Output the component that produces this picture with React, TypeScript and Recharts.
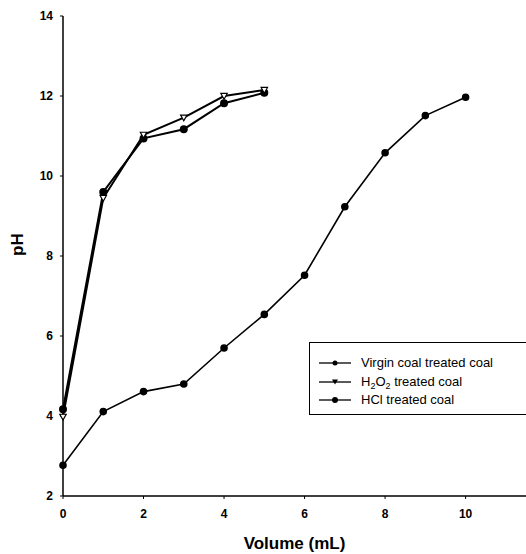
import React from "react";
import { LineChart, Line, XAxis, YAxis } from "recharts";

const volume = [0, 1, 2, 3, 4, 5, 6, 7, 8, 9, 10];
const virginCoal = [4.17, 9.6, 10.94, 11.17, 11.82, 12.08];
const h2o2Coal = [3.98, 9.45, 11.03, 11.46, 12.0, 12.15];
const hclCoal = [2.77, 4.11, 4.61, 4.8, 5.7, 6.54, 7.52, 9.23, 10.58, 11.51, 11.97];
const xTicks = [0, 2, 4, 6, 8, 10];
const yTicks = [2, 4, 6, 8, 10, 12, 14];

const data = volume.map((v, i) => ({
  v,
  virgin: virginCoal[i],
  h2o2: h2o2Coal[i],
  hcl: hclCoal[i],
}));

const FONT = "'Liberation Sans', Arial, sans-serif";

const TriDot = (props: any) => {
  const { cx, cy } = props;
  if (cx == null || cy == null || props.value == null) return null;
  const s = 3.2;
  return (
    <polygon
      points={`${cx - s},${cy - s * 0.8} ${cx + s},${cy - s * 0.8} ${cx},${cy + s}`}
      fill="#fff"
      stroke="#000"
      strokeWidth={1.2}
    />
  );
};

const LegendSample = ({ kind }: { kind: string }) => (
  <svg width={34} height={10} style={{ display: "block" }}>
    <line x1={1} y1={5} x2={33} y2={5} stroke="#000" strokeWidth={1.3} />
    {kind === "tri" ? (
      <polygon points="14,2.5 20,2.5 17,7.5" fill="#000" />
    ) : (
      <circle cx={17} cy={5} r={kind === "big" ? 3 : 2.5} fill="#000" />
    )}
  </svg>
);

const LegendBox = () => {
  const rows = [
    { kind: "small", label: <span>Virgin coal treated coal</span> },
    {
      kind: "tri",
      label: (
        <span>
          H<sub style={{ fontSize: 9, verticalAlign: -3, lineHeight: 0 }}>2</sub>O
          <sub style={{ fontSize: 9, verticalAlign: -3, lineHeight: 0 }}>2</sub> treated coal
        </span>
      ),
    },
    { kind: "big", label: <span>HCl treated coal</span> },
  ];
  return (
    <div
      style={{
        position: "absolute",
        left: 309,
        top: 342,
        border: "1px solid #000",
        width: 240,
        height: 73,
        boxSizing: "border-box",
        paddingTop: 11,
        paddingLeft: 8,
        fontFamily: FONT,
        fontSize: 13,
        color: "#000",
        background: "#fff",
      }}
    >
      {rows.map((r, i) => (
        <div key={i} style={{ display: "flex", alignItems: "center", height: 18.5 }}>
          <LegendSample kind={r.kind} />
          <div style={{ marginLeft: 9, lineHeight: "14px" }}>{r.label}</div>
        </div>
      ))}
    </div>
  );
};

export default function App() {
  return (
    <div
      style={{
        position: "absolute",
        left: 0,
        top: 0,
        width: 526,
        height: 554,
        overflow: "hidden",
        background: "#fff",
      }}
    >
      <LineChart
        width={526}
        height={554}
        data={data}
        margin={{ top: 16, right: 0, bottom: 28, left: 0 }}
      >
        <XAxis
          xAxisId="top"
          orientation="top"
          dataKey="v"
          type="number"
          domain={[0, 11.5]}
          height={0}
          tick={false}
          tickLine={false}
          axisLine={{ stroke: "#000", strokeWidth: 1.5 }}
        />
        <XAxis
          dataKey="v"
          type="number"
          domain={[0, 11.5]}
          ticks={xTicks}
          height={30}
          tickSize={3}
          tickMargin={10}
          axisLine={{ stroke: "#000", strokeWidth: 1.5 }}
          tickLine={{ stroke: "#000" }}
          tick={{ fill: "#000", fontSize: 12, fontWeight: "bold", fontFamily: FONT }}
          label={{
            value: "Volume (mL)",
            position: "insideBottom",
            offset: -23,
            fill: "#000",
            fontSize: 17,
            fontWeight: "bold",
            fontFamily: FONT,
          }}
        />
        <YAxis
          type="number"
          domain={[2, 14]}
          ticks={yTicks}
          width={63}
          tickSize={3}
          tickMargin={7}
          axisLine={{ stroke: "#000", strokeWidth: 1.5 }}
          tickLine={{ stroke: "#000" }}
          tick={{ fill: "#000", fontSize: 12, fontWeight: "bold", fontFamily: FONT }}
          label={{
            value: "pH",
            angle: -90,
            position: "insideLeft",
            offset: 17,
            fill: "#000",
            fontSize: 17,
            fontWeight: "bold",
            fontFamily: FONT,
          }}
        />
        <Line
          dataKey="virgin"
          stroke="#000"
          strokeWidth={2}
          dot={{ r: 3, fill: "#000", stroke: "#000" }}
          isAnimationActive={false}
          connectNulls={false}
        />
        <Line
          dataKey="h2o2"
          stroke="#000"
          strokeWidth={2}
          dot={<TriDot />}
          isAnimationActive={false}
          connectNulls={false}
        />
        <Line
          dataKey="hcl"
          stroke="#000"
          strokeWidth={1.6}
          dot={{ r: 3, fill: "#000", stroke: "#000" }}
          isAnimationActive={false}
        />
      </LineChart>
      <LegendBox />
    </div>
  );
}
